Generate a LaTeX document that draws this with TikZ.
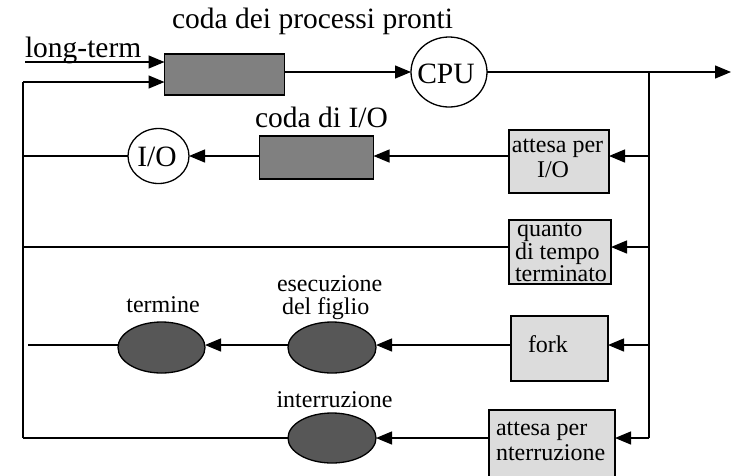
\documentclass[tikz,border=0pt]{standalone}
\usepackage{fontspec}
\setmainfont{Liberation Serif}
\usetikzlibrary{arrows.meta,shapes.geometric}
\definecolor{qgray}{HTML}{808080}
\definecolor{egray}{HTML}{575757}
\definecolor{lgray}{HTML}{DCDCDC}
\begin{document}
\begin{tikzpicture}[x=1pt,y=-1pt,line width=1.3pt,
  every node/.style={inner sep=0pt,outer sep=0pt},
  queue/.style={draw,fill=qgray,rectangle},
  evbox/.style={draw,fill=lgray,rectangle},
  devc/.style={draw,fill=white,ellipse},
  evell/.style={draw,fill=egray,ellipse,minimum width=88pt,minimum height=51pt},
  arr/.style={-{Triangle[length=16pt,width=13pt]}},
  big/.style={font=\fontsize{29.5}{30}\selectfont},
  small/.style={font=\fontsize{24}{24}\selectfont}]
\clip (0,0) rectangle (731,475);
\useasboundingbox (0,0) rectangle (731,475);
% nodes
\node[queue,minimum width=120pt,minimum height=41pt] (ready) at (224.5,74.5) {};
\node[devc,minimum width=76pt,minimum height=70pt] (cpu) at (449,72) {};
\node[big,anchor=base] (cputxt) at (446,83) {CPU};
\node[queue,minimum width=114pt,minimum height=43pt] (codaio) at (316.5,157.5) {};
\node[devc,minimum width=61pt,minimum height=55pt] (io) at (158.5,156) {};
\node[big,anchor=base] (iotxt) at (157,166) {I/O};
\node[evbox,minimum width=100pt,minimum height=63pt] (attio) at (559,161.5) {};
\node[evbox,minimum width=102pt,minimum height=64pt] (quanto) at (560,252) {};
\node[evbox,minimum width=97pt,minimum height=65pt] (fork) at (559.5,348.5) {};
\node[evbox,minimum width=126pt,minimum height=80pt] (attint) at (552,450) {};
\node[evell] (esec) at (332,347.5) {};
\node[evell,minimum width=87pt] (term) at (161.5,347.5) {};
\node[evell,minimum height=50pt] (interr) at (332,438) {};
% labels
\node[big,anchor=base] (title) at (312.5,28) {coda dei processi pronti};
\node[big,anchor=base west] (lterm) at (25,57) {long-term};
\node[big,anchor=base] (codaiotxt) at (321.5,127) {coda di I/O};
\node[small,anchor=base] (a1) at (557.5,152) {attesa per};
\node[small,anchor=base] (a2) at (553,177) {I/O};
\node[small,anchor=base west] (q1) at (517,236) {quanto};
\node[small,anchor=base west] (q2) at (515,259) {di tempo};
\node[small,anchor=base west] (q3) at (515,281) {terminato};
\node[small,anchor=base west] (forktxt) at (528,352) {fork};
\node[small,anchor=base west] (i1) at (496,435) {attesa per};
\node[small,anchor=base west] (i2) at (496,460) {nterruzione};
\node[small,anchor=base] (termtxt) at (163,312) {termine};
\node[small,anchor=base west] (e1) at (277,291) {esecuzione};
\node[small,anchor=base west] (e2) at (282,314) {del figlio};
\node[small,anchor=base] (interrtxt) at (334.5,407) {interruzione};
% coordinates
\coordinate (lt0) at (25,62);
\coordinate (lt) at (23,82);
\coordinate (lb) at (23,438);
\coordinate (vt) at (649,72);
\coordinate (out) at (731,72);
\coordinate (r2) at (649,156);
\coordinate (r3) at (649,247);
\coordinate (r4) at (649,345);
\coordinate (r4e) at (28,345);
\coordinate (vb) at (649,438);
% connectors
\draw[arr] (lt0) -- (ready.west |- lt0);
\draw[arr] (lt) -- (ready.west |- lt);
\draw (lt) -- (lb);
\draw[arr] (ready.east |- cpu) -- (cpu.west);
\draw[arr] (cpu.east) -- (out);
\draw (vt) -- (vb);
\draw[arr] (r2) -- (attio.east |- r2);
\draw[arr] (attio.west |- r2) -- (codaio.east |- r2);
\draw[arr] (codaio.west |- r2) -- (io.east |- r2);
\draw (io.west |- r2) -- (lt |- r2);
\draw[arr] (r3) -- (quanto.east |- r3);
\draw (quanto.west |- r3) -- (lt |- r3);
\draw[arr] (r4) -- (fork.east |- r4);
\draw[arr] (fork.west |- r4) -- (esec.east |- r4);
\draw[arr] (esec.west |- r4) -- (term.east |- r4);
\draw (term.west |- r4) -- (r4e);
\draw[arr] (vb) -- (attint.east |- vb);
\draw[arr] (attint.west |- vb) -- (interr.east);
\draw (interr.west) -- (lb);
\end{tikzpicture}
\end{document}
